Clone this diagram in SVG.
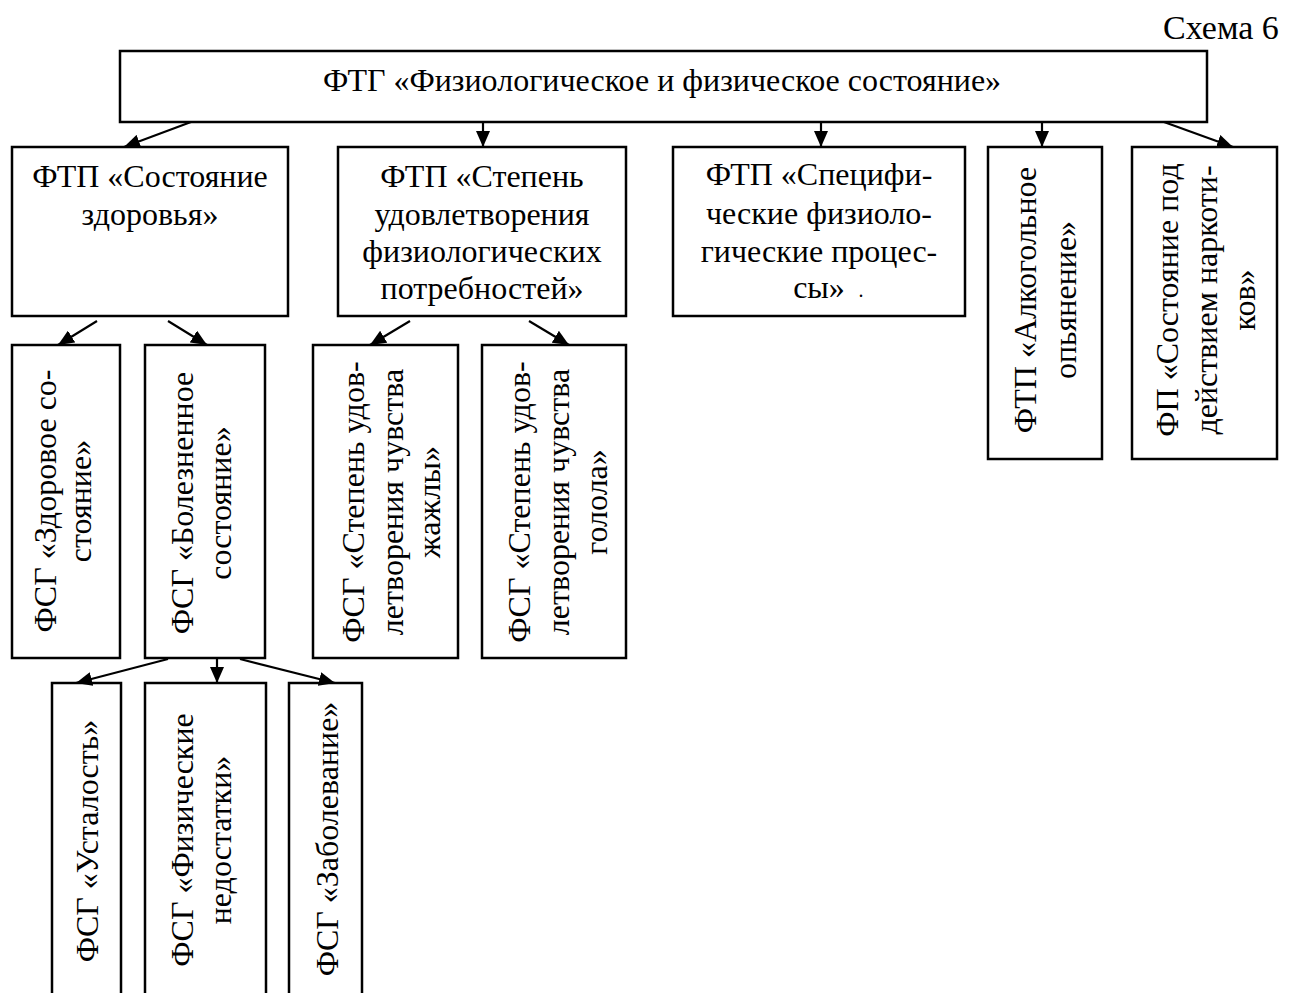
<svg xmlns="http://www.w3.org/2000/svg" width="1292" height="993" viewBox="0 0 1292 993">
<defs>
<marker id="ah" viewBox="0 0 16 14" markerUnits="userSpaceOnUse" markerWidth="16" markerHeight="14" refX="16" refY="7" orient="auto">
<path d="M0,0 L16,7 L0,14 z" fill="#000"/>
</marker>
</defs>
<style>
rect{fill:#fff;stroke:#000;stroke-width:2.5}
text{font-family:"Liberation Serif","Times New Roman",serif;font-size:32px;fill:#000;text-anchor:middle}
.cn line{stroke:#000;stroke-width:2.2;marker-end:url(#ah)}
</style>
<rect width="1292" height="993" style="stroke:none"/>
<text x="1163" y="39" style="text-anchor:start;font-size:34px">Схема 6</text>
<g id="top"><rect x="120" y="51" width="1087" height="71"/><text x="662" y="91">ФТГ «Физиологическое и физическое состояние»</text></g>
<g id="nA"><rect x="12" y="147" width="276" height="169"/><text x="150" y="187">ФТП «Состояние</text><text x="150" y="225">здоровья»</text></g>
<g id="nB"><rect x="338" y="147" width="288" height="169"/><text x="482" y="187">ФТП «Степень</text><text x="482" y="225">удовлетворения</text><text x="482" y="262">физиологических</text><text x="482" y="299">потребностей»</text></g>
<g id="nC"><rect x="673" y="147" width="292" height="169"/><text x="819" y="185">ФТП «Специфи-</text><text x="819" y="224">ческие физиоло-</text><text x="819" y="262">гические процес-</text><text x="819" y="298">сы»</text><text x="861" y="297" style="font-size:20px">.</text></g>
<g id="nD"><rect x="988" y="147" width="114" height="312"/><g transform="rotate(-90)"><text x="-300" y="1036">ФТП «Алкогольное</text><text x="-300" y="1076">опьянение»</text></g></g>
<g id="nE"><rect x="1132" y="147" width="145" height="312"/><g transform="rotate(-90)"><text x="-300" y="1178">ФП «Состояние под</text><text x="-300" y="1217">действием наркоти-</text><text x="-300" y="1255">ков»</text></g></g>
<g id="nF"><rect x="12" y="345" width="108" height="313"/><g transform="rotate(-90)"><text x="-501" y="56">ФСГ «Здоровое со-</text><text x="-501" y="91">стояние»</text></g></g>
<g id="nG"><rect x="145" y="345" width="120" height="313"/><g transform="rotate(-90)"><text x="-503" y="193">ФСГ «Болезненное</text><text x="-503" y="231">состояние»</text></g></g>
<g id="nH"><rect x="313" y="345" width="145" height="313"/><g transform="rotate(-90)"><text x="-502" y="364">ФСГ «Степень удов-</text><text x="-502" y="403">летворения чувства</text><text x="-502" y="440">жажлы»</text></g></g>
<g id="nI"><rect x="482" y="345" width="144" height="313"/><g transform="rotate(-90)"><text x="-502" y="530">ФСГ «Степень удов-</text><text x="-502" y="569">летворения чувства</text><text x="-502" y="607">голола»</text></g></g>
<g id="nJ"><rect x="52" y="683" width="69" height="330"/><g transform="rotate(-90)"><text x="-841" y="98">ФСГ «Усталость»</text></g></g>
<g id="nK"><rect x="145" y="683" width="121" height="330"/><g transform="rotate(-90)"><text x="-840" y="193">ФСГ «Физические</text><text x="-840" y="231">недостатки»</text></g></g>
<g id="nL"><rect x="289" y="683" width="73" height="330"/><g transform="rotate(-90)"><text x="-839" y="338">ФСГ «Заболевание»</text></g></g>
<g id="connectors" class="cn">
<line x1="191" y1="122" x2="124" y2="147"/>
<line x1="483" y1="122" x2="483" y2="147"/>
<line x1="821" y1="122" x2="821" y2="147"/>
<line x1="1042" y1="122" x2="1042" y2="147"/>
<line x1="1164" y1="122" x2="1233" y2="147"/>
<line x1="97" y1="321" x2="58" y2="345"/>
<line x1="168" y1="321" x2="207" y2="345"/>
<line x1="410" y1="321" x2="370" y2="345"/>
<line x1="529" y1="321" x2="569" y2="345"/>
<line x1="168" y1="659" x2="76" y2="683"/>
<line x1="217" y1="659" x2="217" y2="683"/>
<line x1="240" y1="659" x2="335" y2="683"/>
</g>
</svg>
